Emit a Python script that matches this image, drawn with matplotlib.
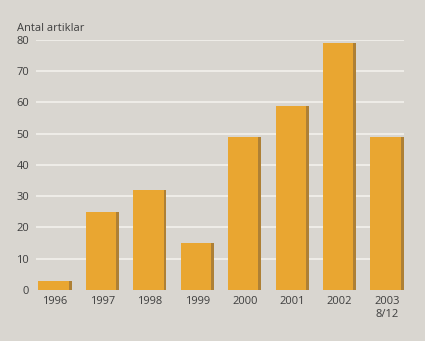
import numpy as np
import matplotlib.pyplot as plt

plt.rcParams['font.family'] = ['Open Sans', 'DejaVu Sans']

years = ['1996', '1997', '1998', '1999', '2000', '2001', '2002', '2003\n8/12']
counts = [3, 25, 32, 15, 49, 59, 79, 49]
yticks = [0, 10, 20, 30, 40, 50, 60, 70, 80]

bg = '#d9d6d0'
bar_col = '#e9a631'
edge_col = '#ae8035'
txt = '#3e3e3e'

fig = plt.figure(figsize=(4.25, 3.41), dpi=100, facecolor=bg)
ax = fig.add_axes([0.085, 0.1496, 0.8656, 0.7331])
ax.set_facecolor(bg)

x = np.arange(len(years))
w = 0.7
# gridlines behind the bars
for v in yticks[1:]:
    ax.axhline(v, color='#f3f1ec', lw=1.2, zorder=1)

# dark strip on the right side, then the main bar face
ax.bar(x, counts, width=w, color=edge_col, zorder=2)
ax.bar(x - 0.03, counts, width=w - 0.06, color=bar_col, zorder=3)

ax.set_xlim(-0.4, 7.36)
ax.set_ylim(0, 80)
ax.set_xticks(x)
ax.set_xticklabels(years, fontsize=8, color=txt, linespacing=1.25)
ax.set_yticks(yticks)
ax.set_yticklabels([str(v) for v in yticks], fontsize=8, color=txt)
ax.tick_params(length=0, pad=5)
ax.tick_params(axis='x', pad=4)
for s in ax.spines.values():
    s.set_visible(False)

fig.text(0.04, 0.9, 'Antal artiklar', fontsize=8, color=txt, va='bottom')

fig.savefig('out.png', dpi=100, facecolor=bg)
